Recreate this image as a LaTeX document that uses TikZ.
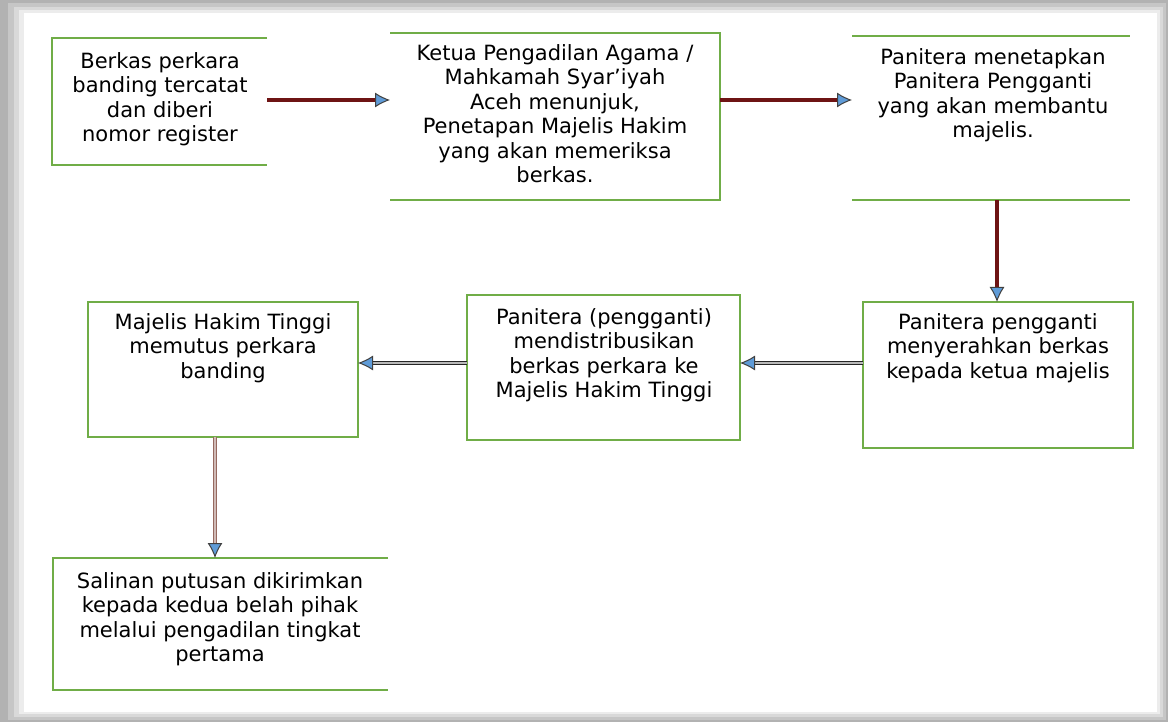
\documentclass[tikz,border=0pt]{standalone}
\usepackage{fontspec}
\setmainfont{DejaVu Sans}
\usetikzlibrary{arrows.meta}
\definecolor{bx}{RGB}{112,173,71}
\definecolor{tipc}{RGB}{95,155,215}
\definecolor{arrred}{RGB}{110,20,20}
\definecolor{arrbrown}{RGB}{150,105,95}
\begin{document}
\begin{tikzpicture}[x=1pt,y=-1pt,
  box/.style={rectangle,draw=none,inner sep=0pt,outer sep=0pt},
  side/.style={draw=bx,line width=1.8pt},
  txt/.style={align=center,inner sep=0pt,font=\fontsize{21}{24.5}\selectfont},
  tipA/.style={-{Latex[length=15pt,width=15pt,color=black!75,fill=tipc,line width=1pt]}},
  arrR/.style={tipA,draw=arrred,line width=3.4pt},
  arrD/.style={tipA,draw=black!85,double=gray!55,double distance=1.6pt,line width=1.1pt},
  arrB/.style={tipA,draw=arrbrown,double=arrbrown!45,double distance=1.6pt,line width=1.1pt}]
\useasboundingbox (0,0) rectangle (1168,722);
% page and shadow
\fill[gray!60] (0,0) rectangle (1168,722);
\fill[gray!45] (8,3) rectangle (1166,720);
\fill[gray!30] (14,7) rectangle (1163,717);
\fill[gray!15] (19,10) rectangle (1160,714);
\fill[white] (24,13) rectangle (1157,712);

% boxes
\node[box,minimum width=215,minimum height=127] (b1) at (159.5,101.5) {};
\node[box,minimum width=330,minimum height=167] (b2) at (555,116.5) {};
\node[box,minimum width=278,minimum height=164] (b3) at (991,118) {};
\node[box,minimum width=270,minimum height=146] (b4) at (998,375) {};
\node[box,minimum width=273,minimum height=145] (b5) at (603.5,367.5) {};
\node[box,minimum width=270,minimum height=135] (b6) at (223,369.5) {};
\node[box,minimum width=335,minimum height=132] (b7) at (220.5,624) {};

% visible sides
\draw[side] (b1.north east) -- (b1.north west) -- (b1.south west) -- (b1.south east);
\draw[side] (b2.north west) -- (b2.north east) -- (b2.south east) -- (b2.south west);
\draw[side] (b3.north west) -- (b3.north east);
\draw[side] (b3.south west) -- (b3.south east);
\draw[side] (b4.north west) rectangle (b4.south east);
\draw[side] (b5.north west) rectangle (b5.south east);
\draw[side] (b6.north west) rectangle (b6.south east);
\draw[side] (b7.north east) -- (b7.north west) -- (b7.south west) -- (b7.south east);

% texts
\node[txt,anchor=north] (t1) at (160,52) {Berkas perkara\\banding tercatat\\dan diberi\\nomor register};
\node[txt,anchor=north] (t2) at (555,44) {Ketua Pengadilan Agama /\\Mahkamah Syar'iyah\\Aceh menunjuk,\\Penetapan Majelis Hakim\\yang akan memeriksa\\berkas.};
\node[txt,anchor=north] (t3) at (993,48) {Panitera menetapkan\\Panitera Pengganti\\yang akan membantu\\majelis.};
\node[txt,anchor=north] (t4) at (998,313) {Panitera pengganti\\menyerahkan berkas\\kepada ketua majelis};
\node[txt,anchor=north] (t5) at (604,308) {Panitera (pengganti)\\mendistribusikan\\berkas perkara ke\\Majelis Hakim Tinggi};
\node[txt,anchor=north] (t6) at (223,313) {Majelis Hakim Tinggi\\memutus perkara\\banding};
\node[txt,anchor=north] (t7) at (220,572) {Salinan putusan dikirimkan\\kepada kedua belah pihak\\melalui pengadilan tingkat\\pertama};

% connectors
\draw[arrR] (b1.east |- 0,100) -- (b2.west |- 0,100);
\draw[arrR] (b2.east |- 0,100) -- (b3.west |- 0,100);
\draw[arrR] (b3.south -| 997,0) -- (b4.north -| 997,0);
\draw[arrD] (b4.west |- 0,363) -- (b5.east |- 0,363);
\draw[arrD] (b5.west |- 0,363) -- (b6.east |- 0,363);
\draw[arrB] (b6.south -| 215,0) -- (b7.north -| 215,0);
\end{tikzpicture}
\end{document}
